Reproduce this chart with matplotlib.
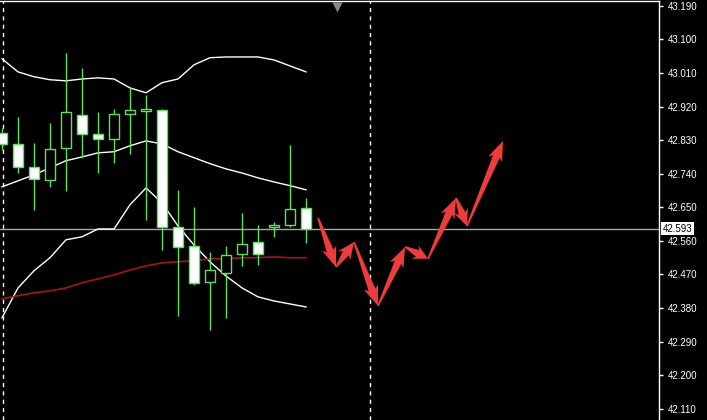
import numpy as np
import matplotlib.pyplot as plt
from matplotlib.patches import Polygon
from matplotlib.transforms import blended_transform_factory

# ---- DATOS (velas, indice de barra = posicion) ----
opens  = [42.850, 42.820, 42.758, 42.724, 42.809, 42.898, 42.847, 42.834, 42.900, 42.909,
          42.911, 42.598, 42.547, 42.450, 42.474, 42.525, 42.557, 42.598, 42.603, 42.649]
highs  = [42.863, 42.892, 42.823, 42.876, 43.064, 43.024, 42.906, 42.914, 42.973, 42.951,
          42.914, 42.697, 42.651, 42.531, 42.547, 42.635, 42.603, 42.611, 42.817, 42.675]
lows   = [42.804, 42.742, 42.643, 42.705, 42.694, 42.785, 42.742, 42.769, 42.793, 42.616,
          42.536, 42.359, 42.442, 42.322, 42.354, 42.493, 42.496, 42.571, 42.598, 42.555]
closes = [42.820, 42.758, 42.726, 42.807, 42.906, 42.847, 42.834, 42.900, 42.911, 42.914,
          42.598, 42.544, 42.448, 42.482, 42.523, 42.552, 42.525, 42.603, 42.646, 42.593]

# bandas de bollinger
bb_upper  = [43.048, 43.013, 43.000, 42.992, 42.989, 42.994, 42.997, 42.994, 42.970, 42.957,
             42.984, 42.994, 43.032, 43.051, 43.053, 43.053, 43.053, 43.045, 43.029, 43.013]
bb_middle = [42.705, 42.721, 42.737, 42.756, 42.775, 42.785, 42.796, 42.799, 42.815, 42.828,
             42.820, 42.799, 42.783, 42.767, 42.753, 42.742, 42.729, 42.718, 42.708, 42.697]
bb_lower  = [42.354, 42.434, 42.480, 42.515, 42.563, 42.571, 42.592, 42.592, 42.657, 42.702,
             42.662, 42.600, 42.549, 42.504, 42.466, 42.434, 42.410, 42.399, 42.391, 42.383]
# media movil roja
ma_red = [42.405, 42.413, 42.421, 42.426, 42.434, 42.448, 42.458, 42.469, 42.482, 42.493,
          42.501, 42.504, 42.507, 42.512, 42.512, 42.515, 42.515, 42.517, 42.515, 42.515]

# zigzag de pronostico (flechas rojas)
fx = [19.75, 20.875, 22.0, 23.5, 25.19, 26.625, 28.375, 29.06, 31.31]
fy = [42.622, 42.490, 42.557, 42.386, 42.544, 42.512, 42.675, 42.600, 42.828]

separators = [0.05, 23]
last_price = 42.593
shift_mark = 20.94
yticks = [43.190, 43.100, 43.010, 42.920, 42.830, 42.740, 42.650, 42.560,
          42.470, 42.380, 42.290, 42.200, 42.110]

green = '#5ee05e'

fig = plt.figure(figsize=(7.07, 4.2), dpi=100, facecolor='black')
ax = fig.add_axes([0, 0, 659 / 707, 419 / 420])
ax.set_facecolor('black')
ax.set_xlim(-0.125, 41.06)
ax.set_ylim(42.080, 43.203)

x = np.arange(len(opens))

# separadores de periodo
for s in separators:
    ax.axvline(s, color='white', lw=1, ls=(0, (3, 3)), zorder=1)

# linea del precio actual
ax.axhline(last_price, color='#a8a8b8', lw=1, zorder=1)

# bandas y media
ax.plot(x, bb_upper, color='white', lw=1, zorder=2)
ax.plot(x, bb_middle, color='white', lw=1, zorder=2)
ax.plot(x, bb_lower, color='white', lw=1, zorder=2)
ax.plot(x, ma_red, color='#a81515', lw=1.2, zorder=2)

# velas
ax.vlines(x, lows, highs, color=green, lw=1, zorder=3)
for i in range(len(opens)):
    o, c = opens[i], closes[i]
    fc = 'black' if c >= o else 'white'
    h = max(abs(c - o), 0.004)
    ax.bar(x[i], h, bottom=min(o, c), width=0.66, facecolor=fc,
           edgecolor=green, lw=1, zorder=4)

# flechas rojas (poligonos en pixeles)
tr = ax.transData
inv = tr.inverted()
pts = tr.transform(np.column_stack([fx, fy]))
for k in range(len(pts) - 1):
    p0, p1 = pts[k], pts[k + 1]
    d = p1 - p0
    L = np.hypot(d[0], d[1])
    d = d / L
    n = np.array([-d[1], d[0]])
    hl = min(17, 0.45 * L)
    b = p1 - d * hl
    barb = b - d * 3
    poly = [p0 + n * 0.8, b + n * 3.6, barb + n * 7.5, p1, barb - n * 7.5, b - n * 3.6, p0 - n * 0.8]
    ax.add_patch(Polygon(inv.transform(poly), closed=True, facecolor='#ee3b3b',
                         edgecolor='none', zorder=5))

# marca de desplazamiento arriba
ax.plot([shift_mark], [0.985], marker='v', color='#8a8a8a', ms=7, mec='none',
        transform=blended_transform_factory(ax.transData, ax.transAxes), clip_on=False)

# ejes
for side in ['left', 'bottom']:
    ax.spines[side].set_visible(False)
for side in ['top', 'right']:
    ax.spines[side].set_color('white')
    ax.spines[side].set_linewidth(1)
ax.set_xticks([])
ax.yaxis.tick_right()
ax.set_yticks(yticks)
ax.set_yticklabels(['%.3f' % t for t in yticks])
ax.tick_params(axis='y', colors='white', length=3, width=1, pad=3, labelsize=7)
for lab in ax.get_yticklabels():
    lab.set_fontfamily('Liberation Sans')

ax.text(1.006, last_price, '%.3f' % last_price, transform=blended_transform_factory(ax.transAxes, ax.transData),
        ha='left', va='center', fontsize=7, family='Liberation Sans', color='black',
        bbox=dict(facecolor='white', edgecolor='none', boxstyle='square,pad=0.15'), clip_on=False)

fig.savefig('out.png', dpi=100, facecolor='black')
